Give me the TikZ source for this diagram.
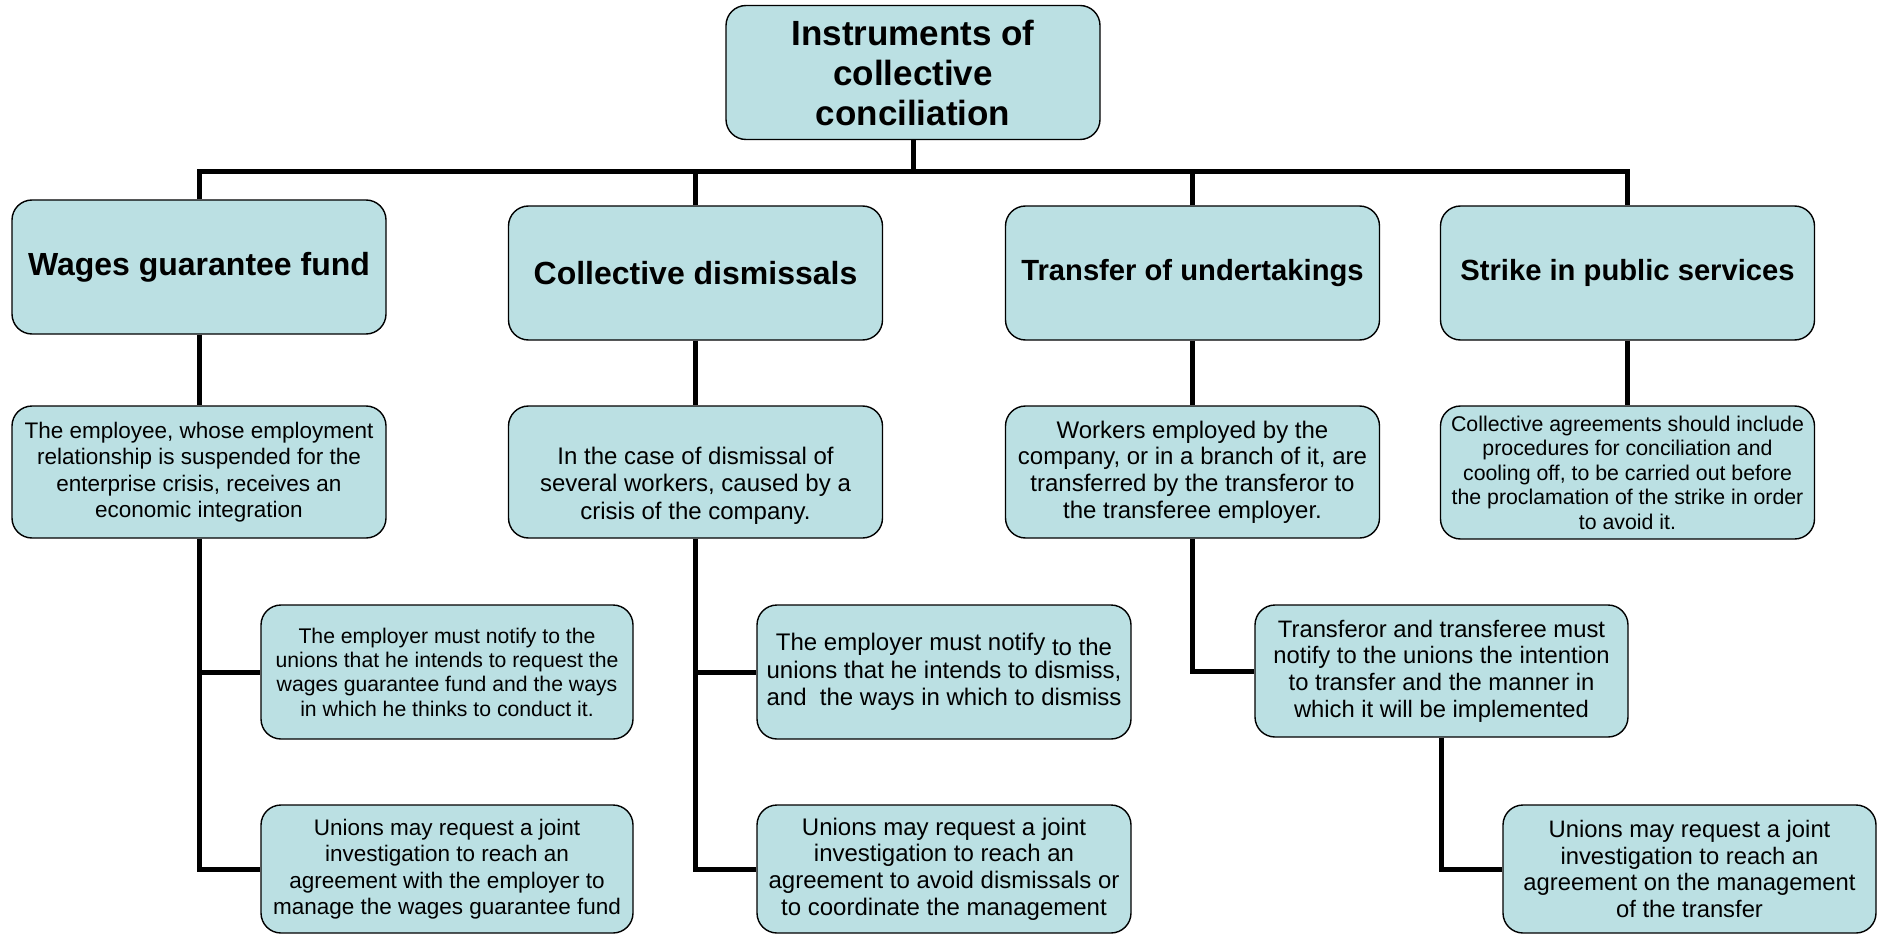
\documentclass[tikz,border=0pt]{standalone}
\usepackage{fontspec}
\setmainfont{Liberation Sans}
\definecolor{boxfill}{HTML}{BBE0E3}

\begin{document}
\begin{tikzpicture}[
    x=1pt,
    y=-1pt,
    box/.style={draw=black, line width=1.4pt, fill=boxfill, rounded corners=20pt,
        align=center, inner sep=4pt, minimum width=374pt, minimum height=134pt},
    head/.style={box, font=\fontsize{32}{37}\selectfont\bfseries},
    note/.style={box, font=\fontsize{22.5}{26.5}\selectfont},
    link/.style={line width=5pt}
]
\useasboundingbox (0,0) rectangle (1887,936);

% Column centres
\def\cA{199}
\def\cB{695.5}
\def\cC{1192.5}
\def\cD{1627.5}

% =========================
% Root
% =========================
\node[box, font=\fontsize{35}{40}\selectfont\bfseries] (root) at (913,72.5)
    {Instruments of\\collective\\conciliation};
\coordinate (bus) at (913,172);

% =========================
% Instruments
% =========================
\node[head] (wage)   at (\cA,267) {Wages guarantee fund};
\node[head] (dism)   at (\cB,273) {Collective dismissals};
\node[head, font=\fontsize{29.2}{34}\selectfont\bfseries] (trans)  at (\cC,273) {Transfer of undertakings};
\node[head, font=\fontsize{29.2}{34}\selectfont\bfseries] (strike) at (\cD,273) {Strike in public services};

% =========================
% Cases
% =========================
\node[note, minimum height=132pt] (wage2) at (\cA,472)
    {The employee, whose employment\\relationship is suspended for the\\enterprise crisis, receives an\\economic integration};
\node[note, minimum height=132pt, font=\fontsize{24}{27.5}\selectfont] (dism2) at (\cB,472)
    {\rule{0pt}{44pt}In the case of dismissal of\\several workers, caused by a\\crisis of the company.};
\node[note, minimum height=132pt, font=\fontsize{24}{26.7}\selectfont] (trans2) at (\cC,472)
    {Workers employed by the\\company, or in a branch of it, are\\transferred by the transferor to\\the transferee employer.};
\node[note, minimum height=133pt, font=\fontsize{21.3}{24.5}\selectfont] (strike2) at (\cD,472.5)
    {Collective agreements should include\\procedures for conciliation and\\cooling off, to be carried out before\\the proclamation of the strike in order\\to avoid it.};

% =========================
% Procedures
% =========================
\node[note, minimum width=372pt, font=\fontsize{21.2}{24.3}\selectfont] (wage3) at (447,672)
    {The employer must notify to the\\unions that he intends to request the\\wages guarantee fund and the ways\\in which he thinks to conduct it.};
\node[note, minimum width=372pt, minimum height=128pt] (wage4) at (447,869)
    {Unions may request a joint\\investigation to reach an\\agreement with the employer to\\manage the wages guarantee fund};

\node[note, font=\fontsize{24}{27.5}\selectfont] (dism3) at (944,672)
    {The employer must notify \raisebox{-5pt}{to the}\\unions that he intends to dismiss,\\and\ \ the ways in which to dismiss};
\node[note, minimum height=128pt, font=\fontsize{24}{26.7}\selectfont] (dism4) at (944,869)
    {Unions may request a joint\\investigation to reach an\\agreement to avoid dismissals or\\to coordinate the management};

\node[note, minimum width=373pt, minimum height=132pt, font=\fontsize{23.8}{26.7}\selectfont] (trans3) at (1441.5,671)
    {Transferor and transferee must\\notify to the unions the intention\\to transfer and the manner in\\which it will be implemented};
\node[note, minimum width=373pt, minimum height=128pt, font=\fontsize{23.8}{26.7}\selectfont] (trans4) at (1689.5,869)
    {Unions may request a joint\\investigation to reach an\\agreement on the management\\of the transfer};

% =========================
% Connectors
% =========================
\draw[link] (root.south) -- (bus);
\draw[link] (wage.north) |- (bus) -| (strike.north);
\draw[link] (dism.north) -- (dism.north |- bus);
\draw[link] (trans.north) -- (trans.north |- bus);

\draw[link] (wage) -- (wage2);
\draw[link] (dism) -- (dism2);
\draw[link] (trans) -- (trans2);
\draw[link] (strike) -- (strike2);

\draw[link] (wage2.south) |- (wage4.west);
\draw[link] (wage2.south |- wage3.west) -- (wage3.west);
\draw[link] (dism2.south) |- (dism4.west);
\draw[link] (dism2.south |- dism3.west) -- (dism3.west);
\draw[link] (trans2.south) |- (trans3.west);
\draw[link] (trans3.south) |- (trans4.west);

\end{tikzpicture}
\end{document}
